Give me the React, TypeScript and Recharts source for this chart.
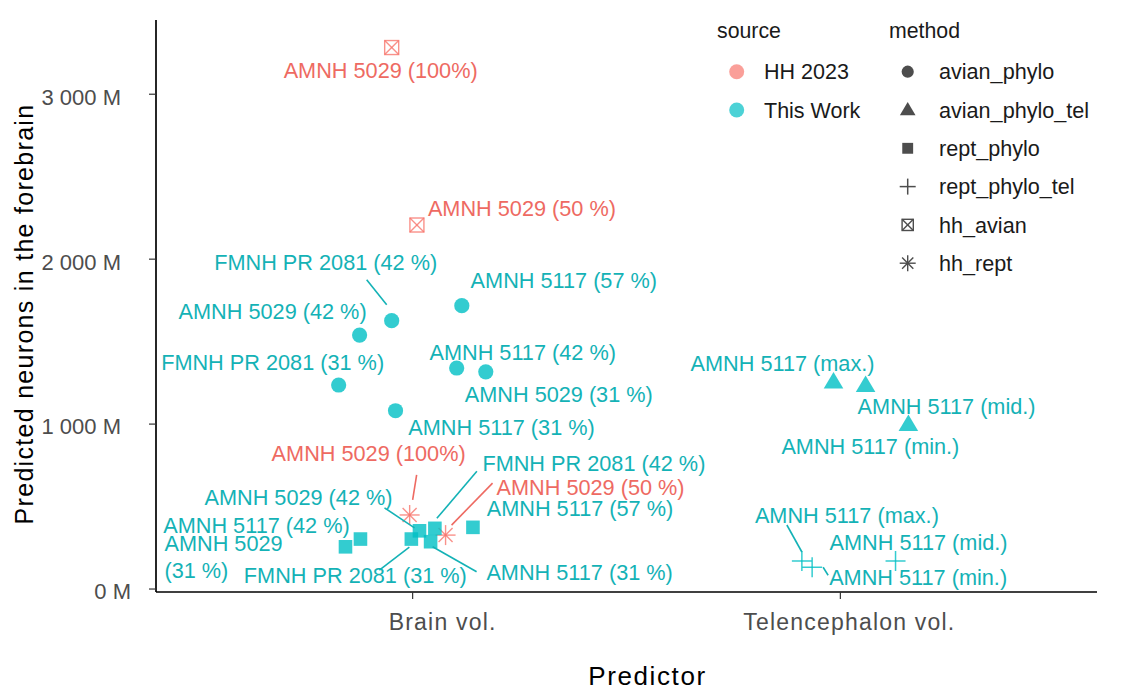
import React from 'react';
import { ScatterChart, Scatter, XAxis, YAxis, Label } from 'recharts';

// categories
const predictors = ['Brain vol.', 'Telencephalon vol.'];
const sources = ['HH 2023', 'This Work'];
const methods = ['avian_phylo', 'avian_phylo_tel', 'rept_phylo', 'rept_phylo_tel', 'hh_avian', 'hh_rept'];
const yTicks = [0, 1000, 2000, 3000];

// HH 2023, hh_avian (position = predictor index + jitter, neurons in millions)
const hhAvianNames = ['AMNH 5029 (100%)', 'AMNH 5029 (50 %)'];
const hhAvianPos = [0.951, 1.01];
const hhAvianNeurons = [3283, 2207];

// HH 2023, hh_rept
const hhReptNames = ['AMNH 5029 (100%)', 'AMNH 5029 (50 %)'];
const hhReptPos = [0.993, 1.077];
const hhReptNeurons = [449, 327];

// This Work, avian_phylo
const avianPhyloNames = [
  'FMNH PR 2081 (42 %)', 'AMNH 5029 (42 %)', 'AMNH 5117 (57 %)', 'FMNH PR 2081 (31 %)',
  'AMNH 5117 (42 %)', 'AMNH 5029 (31 %)', 'AMNH 5117 (31 %)',
];
const avianPhyloPos = [0.951, 0.876, 1.115, 0.827, 1.103, 1.171, 0.96];
const avianPhyloNeurons = [1627, 1540, 1718, 1237, 1340, 1317, 1081];

// This Work, rept_phylo
const reptPhyloNames = [
  'AMNH 5029\n(31 %)', 'AMNH 5117 (42 %)', 'FMNH PR 2081 (31 %)', 'AMNH 5029 (42 %)',
  'FMNH PR 2081 (42 %)', 'AMNH 5117 (31 %)', 'AMNH 5117 (57 %)',
];
const reptPhyloPos = [0.843, 0.878, 0.997, 1.016, 1.052, 1.042, 1.141];
const reptPhyloNeurons = [256, 303, 303, 353, 368, 287, 374];

// This Work, avian_phylo_tel
const avianTelNames = ['AMNH 5117 (max.)', 'AMNH 5117 (mid.)', 'AMNH 5117 (min.)'];
const avianTelPos = [1.984, 2.059, 2.159];
const avianTelNeurons = [1255, 1234, 997];

// This Work, rept_phylo_tel
const reptTelNames = ['AMNH 5117 (max.)', 'AMNH 5117 (mid.)', 'AMNH 5117 (min.)'];
const reptTelPos = [1.91, 2.129, 1.934];
const reptTelNeurons = [170, 170, 132];

// label placement (pixel offsets of label centre from the point, optional leader segment)
const hhAvianLayout = [{ dx: -11, dy: 22.5 }, { dx: 105, dy: -17 }];
const hhReptLayout = [
  { dx: -41, dy: -62, seg: [3, -15, 7, -40] },
  { dx: 145, dy: -48, seg: [6, -10, 47, -52] },
];
const avianPhyloLayout = [
  { dx: -66, dy: -58, seg: [-5, -16, -25, -41] },
  { dx: -87, dy: -24 },
  { dx: 102, dy: -25 },
  { dx: -66, dy: -23 },
  { dx: 66, dy: -16 },
  { dx: 73, dy: 22 },
  { dx: 106, dy: 16 },
];
const reptPhyloLayout = [
  { dx: -181, dy: -4, start: true },
  { dx: -104, dy: -14 },
  { dx: -56, dy: 36, seg: [-2, 8, -32, 31] },
  { dx: -121, dy: -34, seg: [-5, -3, -35, -23] },
  { dx: 159, dy: -65, seg: [2, -10, 42, -57] },
  { dx: 149, dy: 31, seg: [2, 5, 46, 30] },
  { dx: 107, dy: -19 },
];
const avianTelLayout = [{ dx: -51, dy: -19 }, { dx: 81, dy: 21 }, { dx: -38, dy: 22 }];
const reptTelLayout = [
  { dx: 45, dy: -46, seg: [0, -9, -15, -36] },
  { dx: 23, dy: -19 },
  { dx: 106, dy: 10, seg: [11, 0, 16, 8] },
];
// x tick labels sit a little right of their ticks in the original
const xTickShift = [30, 9];

const colors: Record<string, string> = { 'HH 2023': '#F8766D', 'This Work': '#00BFC4' };
const textColors: Record<string, string> = { 'HH 2023': '#EE6A62', 'This Work': '#14B2B6' };
const FONT = '"Liberation Sans", Arial, Helvetica, sans-serif';
const LABEL_SIZE = 21.7;

const build = (names: string[], pos: number[], neurons: number[]) =>
  names.map((name, i) => ({ name, pos: pos[i], neurons: neurons[i], i }));

const series = [
  { method: 'hh_avian', source: 'HH 2023', data: build(hhAvianNames, hhAvianPos, hhAvianNeurons), layout: hhAvianLayout },
  { method: 'hh_rept', source: 'HH 2023', data: build(hhReptNames, hhReptPos, hhReptNeurons), layout: hhReptLayout },
  { method: 'avian_phylo', source: 'This Work', data: build(avianPhyloNames, avianPhyloPos, avianPhyloNeurons), layout: avianPhyloLayout },
  { method: 'avian_phylo_tel', source: 'This Work', data: build(avianTelNames, avianTelPos, avianTelNeurons), layout: avianTelLayout },
  { method: 'rept_phylo', source: 'This Work', data: build(reptPhyloNames, reptPhyloPos, reptPhyloNeurons), layout: reptPhyloLayout },
  { method: 'rept_phylo_tel', source: 'This Work', data: build(reptTelNames, reptTelPos, reptTelNeurons), layout: reptTelLayout },
];

function Marker({ method, cx, cy, color, opacity = 0.8, scale = 1 }: any) {
  const s = scale;
  switch (method) {
    case 'avian_phylo':
      return <circle cx={cx} cy={cy} r={7.6 * s} fill={color} fillOpacity={opacity} />;
    case 'avian_phylo_tel':
      return (
        <polygon
          points={`${cx},${cy - 10 * s} ${cx - 9.8 * s},${cy + 6.5 * s} ${cx + 9.8 * s},${cy + 6.5 * s}`}
          fill={color}
          fillOpacity={opacity}
        />
      );
    case 'rept_phylo':
      return <rect x={cx - 6.8 * s} y={cy - 6.8 * s} width={13.6 * s} height={13.6 * s} fill={color} fillOpacity={opacity} />;
    case 'rept_phylo_tel':
      return (
        <g stroke={color} strokeOpacity={opacity} strokeWidth={1.5}>
          <line x1={cx - 10 * s} y1={cy} x2={cx + 10 * s} y2={cy} />
          <line x1={cx} y1={cy - 10 * s} x2={cx} y2={cy + 10 * s} />
        </g>
      );
    case 'hh_avian':
      return (
        <g stroke={color} strokeOpacity={opacity} strokeWidth={1.4} fill="none">
          <rect x={cx - 7 * s} y={cy - 7 * s} width={14 * s} height={14 * s} />
          <line x1={cx - 7 * s} y1={cy - 7 * s} x2={cx + 7 * s} y2={cy + 7 * s} />
          <line x1={cx + 7 * s} y1={cy - 7 * s} x2={cx - 7 * s} y2={cy + 7 * s} />
        </g>
      );
    case 'hh_rept':
    default: {
      const d = 7 * s;
      return (
        <g stroke={color} strokeOpacity={opacity} strokeWidth={1.4}>
          <line x1={cx - 10 * s} y1={cy} x2={cx + 10 * s} y2={cy} />
          <line x1={cx} y1={cy - 10 * s} x2={cx} y2={cy + 10 * s} />
          <line x1={cx - d} y1={cy - d} x2={cx + d} y2={cy + d} />
          <line x1={cx + d} y1={cy - d} x2={cx - d} y2={cy + d} />
        </g>
      );
    }
  }
}

const makeLabel = (layout: any[], color: string) => (props: any) => {
  const { cx, cy, payload } = props;
  const l = layout[payload.i];
  const lines = String(payload.name).split('\n');
  const base = cy + l.dy + 0.358 * LABEL_SIZE;
  return (
    <g>
      {l.seg && (
        <line
          x1={cx + l.seg[0]} y1={cy + l.seg[1]} x2={cx + l.seg[2]} y2={cy + l.seg[3]}
          stroke={color} strokeWidth={1.6}
        />
      )}
      <text
        x={cx + l.dx}
        y={base}
        fill={color}
        fontSize={LABEL_SIZE}
        fontFamily={FONT}
        textAnchor={l.start ? 'start' : 'middle'}
      >
        {lines.map((t, k) => (
          <tspan key={k} x={cx + l.dx} dy={k === 0 ? 0 : 27}>{t}</tspan>
        ))}
      </text>
    </g>
  );
};

const fmtM = (v: number) =>
  v === 0 ? '0 M' : `${Math.floor(v / 1000)} ${String(v % 1000).padStart(3, '0')} M`;

const YTick = ({ x, y, payload }: any) => (
  <text
    x={x + (payload.value === 0 ? 10 : 0)}
    y={y + 10.4}
    textAnchor="end"
    fill="#4D4D4D"
    fontSize={22}
    fontFamily={FONT}
  >
    {fmtM(payload.value)}
  </text>
);

const XTick = ({ x, y, payload }: any) => (
  <text
    x={x + xTickShift[payload.value - 1]}
    y={y + 21}
    textAnchor="middle"
    fill="#4D4D4D"
    fontSize={23}
    letterSpacing={1.2}
    fontFamily={FONT}
  >
    {predictors[payload.value - 1]}
  </text>
);

function LegendOverlay() {
  const rowH = 38.3;
  return (
    <svg width={1125} height={300} style={{ position: 'absolute', left: 0, top: 0, pointerEvents: 'none' }}>
      <text x={717} y={38} fontSize={21.3} fontFamily={FONT} fill="#1A1A1A">source</text>
      {sources.map((s, i) => (
        <g key={s}>
          <circle cx={736.7} cy={71.7 + i * rowH} r={7.5} fill={colors[s]} fillOpacity={0.7} />
          <text x={764} y={71.7 + i * rowH + 7.7} fontSize={21.5} fontFamily={FONT} fill="#1A1A1A">{s}</text>
        </g>
      ))}
      <text x={889} y={38} fontSize={21.3} fontFamily={FONT} fill="#1A1A1A">method</text>
      {methods.map((m, i) => (
        <g key={m}>
          <Marker method={m} cx={907.7} cy={71.7 + i * rowH} color="#4D4D4D" opacity={1} scale={0.8} />
          <text x={939} y={71.7 + i * rowH + 7.7} fontSize={21.6} fontFamily={FONT} fill="#1A1A1A">{m}</text>
        </g>
      ))}
    </svg>
  );
}

export default function App() {
  return (
    <div style={{ position: 'absolute', left: 0, top: 0, width: 1125, height: 700, background: '#fff' }}>
      <ScatterChart width={1125} height={700} margin={{ top: 20, right: 28, bottom: 78, left: 96 }}>
        <XAxis
          type="number"
          dataKey="pos"
          domain={[0.4, 2.6]}
          ticks={[1, 2]}
          interval={0}
          allowDataOverflow
          axisLine={{ stroke: '#000', strokeWidth: 1.7 }}
          tickLine={{ stroke: '#333', strokeWidth: 1.2 }}
          tickSize={7}
          tickMargin={10}
          tick={<XTick />}
          height={30}
          label={
            <Label
              content={({ viewBox }: any) => (
                <text
                  x={viewBox.x + viewBox.width / 2 + 21}
                  y={685.3}
                  textAnchor="middle"
                  fontSize={26}
                  letterSpacing={1.6}
                  fontFamily={FONT}
                  fill="#000"
                >
                  Predictor
                </text>
              )}
            />
          }
        />
        <YAxis
          type="number"
          dataKey="neurons"
          domain={[-18, 3450]}
          ticks={yTicks}
          interval={0}
          allowDataOverflow
          width={60}
          axisLine={{ stroke: '#000', strokeWidth: 1.7 }}
          tickLine={{ stroke: '#333', strokeWidth: 1.2 }}
          tickSize={7}
          tickMargin={28}
          tick={<YTick />}
          label={
            <Label
              content={() => (
                <text
                  transform="translate(33,314) rotate(-90)"
                  textAnchor="middle"
                  fontSize={25}
                  letterSpacing={1.3}
                  fontFamily={FONT}
                  fill="#000"
                >
                  Predicted neurons in the forebrain
                </text>
              )}
            />
          }
        />
        {series.map((s) => (
          <Scatter
            key={`pts-${s.method}`}
            data={s.data}
            isAnimationActive={false}
            shape={(p: any) => <Marker method={s.method} cx={p.cx} cy={p.cy} color={colors[s.source]} />}
          />
        ))}
        {series.map((s) => (
          <Scatter
            key={`lbl-${s.method}`}
            data={s.data}
            isAnimationActive={false}
            shape={makeLabel(s.layout, textColors[s.source])}
          />
        ))}
      </ScatterChart>
      <LegendOverlay />
    </div>
  );
}
